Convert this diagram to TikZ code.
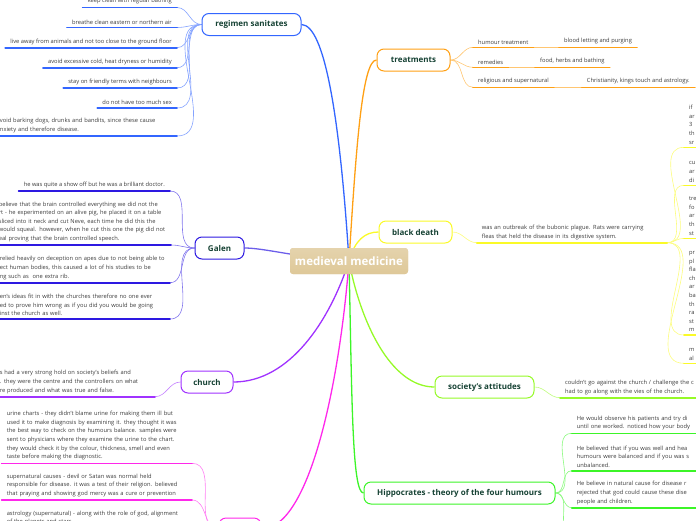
\documentclass[tikz,border=0pt]{standalone}
\usepackage{fontspec}
\setmainfont{Open Sans}
\usetikzlibrary{backgrounds}
\definecolor{leaftxt}{RGB}{58,58,58}
\definecolor{toptxt}{RGB}{22,66,52}
\definecolor{tan}{RGB}{222,200,152}
\definecolor{cblue}{RGB}{51,102,255}
\definecolor{cindigo}{RGB}{45,25,225}
\definecolor{cpurple}{RGB}{160,50,255}
\definecolor{cmagenta}{RGB}{255,40,235}
\definecolor{corange}{RGB}{255,160,20}
\definecolor{cyellow}{RGB}{250,250,40}
\definecolor{clime}{RGB}{150,250,40}
\definecolor{cgreen}{RGB}{60,245,40}
\tikzset{
 centre/.style={fill=tan,top color=tan!80!white,bottom color=tan,rounded corners=3pt,minimum width=118pt,minimum height=26pt,text=white,font=\bfseries\fontsize{11.5}{13}\selectfont},
 topic/.style={draw=#1,fill=white,line width=1pt,rounded corners=7pt,minimum height=22pt,inner xsep=2pt,text=toptxt,font=\bfseries\fontsize{8}{9}\selectfont},
 leaf/.style={inner xsep=5pt,inner ysep=3pt,text=leaftxt,font=\fontsize{5.75}{8.6}\selectfont,align=left,
   append after command={(\tikzlastnode.south west) edge[draw=#1,line width=1.6pt] (\tikzlastnode.south east)}},
 branch/.style={draw=#1,line width=1.3pt},
 twig/.style={draw=#1!60,line width=.6pt}
}
\begin{document}
\begin{tikzpicture}[x=1pt,y=-1pt,line cap=round]
\useasboundingbox (0,0) rectangle (696,520);
\clip (0,0) rectangle (696,520);
\node[centre] (mm) at (349,261) {medieval medicine};
% topics
\node[topic=cblue,minimum width=99pt] (reg) at (251.5,24.5) {regimen sanitates};
\node[topic=corange,minimum width=73pt] (treat) at (413.5,60) {treatments};
\node[topic=cyellow,minimum width=73pt] (bd) at (415.5,232) {black death};
\node[topic=cindigo,minimum width=49pt] (galen) at (219.5,248) {Galen};
\node[topic=cpurple,minimum width=52pt] (church) at (207,382) {church};
\node[topic=clime,minimum width=99pt] (soc) at (484.5,387) {society's attitudes};
\node[topic=cgreen,minimum width=191pt] (hip) at (459.5,493) {Hippocrates - theory of the four humours};
\node[topic=cmagenta,minimum width=42pt] (mag) at (240,529) {};
% regimen sanitates
\node[leaf=cblue,anchor=south east] (r1) at (177,7.5) {keep clean with regular bathing};
\node[leaf=cblue,anchor=south east] (r2) at (177,27.5) {breathe clean eastern or northern air};
\node[leaf=cblue,anchor=south east] (r3) at (177,47.7) {live away from animals and not too close to the ground floor};
\node[leaf=cblue,anchor=south east] (r4) at (177,67.7) {avoid excessive cold, heat dryness or humidity};
\node[leaf=cblue,anchor=south east] (r5) at (177,88) {stay on friendly terms with neighbours};
\node[leaf=cblue,anchor=south east] (r6) at (177,108) {do not have too much sex};
\node[leaf=cblue,anchor=south east,text width=175pt] (r7) at (177,136) {avoid barking dogs, drunks and bandits, since these cause\\anxiety and therefore disease.};
% Galen
\node[leaf=cindigo,anchor=south east] (g1) at (170,191) {he was quite a show off but he was a brilliant doctor.};
\node[leaf=cindigo,anchor=south east,text width=167pt] (g2) at (171,245) {believe that the brain controlled everything we did not the\\rt - he experimented on an alive pig, he placed it on a table\\sliced into it neck and cut Neve, each time he did this the\\would squeal. however, when he cut this one the pig did not\\eal proving that the brain controlled speech.};
\node[leaf=cindigo,anchor=south east,text width=165pt] (g3) at (170,282.7) {relied heavily on deception on apes due to not being able to\\ect human bodies, this caused a lot of his studies to be\\ng such as\ \ one extra rib.};
\node[leaf=cindigo,anchor=south east,text width=165pt] (g4) at (170,319) {en's ideas fit in with the churches therefore no one ever\\ed to prove him wrong as if you did you would be going\\inst the church as well.};
% church
\node[leaf=cpurple,anchor=south east,text width=150pt] (c1) at (155,396.7) {s had a very strong hold on society's beliefs and\\. they were the centre and the controllers on what\\re produced and what was true and false.};
% bottom branch
\node[leaf=cmagenta,anchor=south east,text width=180pt] (m1) at (192,463.3) {urine charts - they didn't blame urine for making them ill but\\used it to make diagnosis by examining it. they thought it was\\the best way to check on the humours balance. samples were\\sent to physicians where they examine the urine to the chart.\\they would check it by the colour, thickness, smell and even\\taste before making the diagnostic.};
\node[leaf=cmagenta,anchor=south east,text width=180pt] (m2) at (192,500) {supernatural causes - devil or Satan was normal held\\responsible for disease. it was a test of their religion. believed\\that praying and showing god mercy was a cure or prevention};
\node[leaf=cmagenta,anchor=south east,text width=180pt] (m3) at (192,528.5) {astrology (supernatural) - along with the role of god, alignment\\of the planets and stars};
% treatments
\node[leaf=corange,anchor=south west] (t1) at (473,47.3) {humour treatment};
\node[leaf=corange,anchor=south west] (t1a) at (559,47.3) {blood letting and purging};
\node[leaf=corange,anchor=south west] (t2) at (473,67.3) {remedies};
\node[leaf=corange,anchor=south west] (t2a) at (535,67.3) {food, herbs and bathing};
\node[leaf=corange,anchor=south west] (t3) at (473,87.3) {religious and supernatural};
\node[leaf=corange,anchor=south west] (t3a) at (581.7,87.3) {Christianity, kings touch and astrology.};
% black death
\node[leaf=cyellow,anchor=south west,text width=180pt] (bd1) at (476.7,242.7) {was an outbreak of the bubonic plague. Rats were carrying\\fleas that held the disease in its digestive system.};
\node[leaf=cyellow,anchor=south west,text width=200pt] (b1) at (684,147.3) {if\\ar\\3\\th\\sr};
\node[leaf=cyellow,anchor=south west,text width=200pt] (b2) at (684,185.3) {cu\\ar\\di};
\node[leaf=cyellow,anchor=south west,text width=200pt] (b3) at (684,238.3) {tre\\fo\\ar\\th\\st};
\node[leaf=cyellow,anchor=south west,text width=200pt] (b4) at (684,335) {pr\\pl\\fla\\ch\\ar\\ba\\th\\ra\\st\\m};
\node[leaf=cyellow,anchor=south west,text width=200pt] (b5) at (684,363.3) {m\\al};
% society's attitudes
\node[leaf=clime,anchor=south west,text width=200pt] (s1) at (560,397.7) {couldn't go against the church / challenge the c\\had to go along with the vies of the church.};
% Hippocrates
\node[leaf=cgreen,anchor=south west,text width=200pt] (h1) at (571.7,433.3) {He would observe his patients and try di\\until one worked. noticed how your body};
\node[leaf=cgreen,anchor=south west,text width=200pt] (h2) at (571.7,470.7) {He believed that if you was well and hea\\humours were balanced and if you was s\\unbalanced.};
\node[leaf=cgreen,anchor=south west,text width=200pt] (h3) at (571.7,507.7) {He believe in natural cause for disease r\\rejected that god could cause these dise\\people and children.};
\node[leaf=cgreen,anchor=south west,text width=200pt] (h4) at (571.7,536) {the four humours could};
\begin{scope}[on background layer]
\clip (0,0) rectangle (696,520);
\draw[branch=cblue] (mm.center) .. controls (340,120) and (325,25) .. (reg.east);
\draw[branch=corange] (mm.center) .. controls (356,150) and (362,60) .. (treat.west);
\draw[branch=cyellow] (mm.center) .. controls (355,240) and (365,232) .. (bd.west);
\draw[branch=cindigo!70] (mm.center) .. controls (300,258) and (265,248) .. (galen.east);
\draw[branch=cpurple] (mm.center) .. controls (330,320) and (290,382) .. (church.east);
\draw[branch=clime] (mm.center) .. controls (360,320) and (390,387) .. (soc.west);
\draw[branch=cgreen] (mm.center) .. controls (352,400) and (352,493) .. (hip.west);
\draw[branch=cmagenta] (mm.center) .. controls (340,380) and (310,529) .. (mag.east);
\foreach \n in {r1,r2,r3,r4,r5,r6,r7} \draw[twig=cblue] (reg.west) to[out=180,in=0] (\n.south east);
\foreach \n in {g1,g2,g3,g4} \draw[twig=cindigo] (galen.west) to[out=180,in=0] (\n.south east);
\draw[twig=cpurple] (church.west) to[out=180,in=0] (c1.south east);
\foreach \n in {m1,m2,m3} \draw[twig=cmagenta] (mag.west) to[out=180,in=0] (\n.south east);
\foreach \n in {t1,t2,t3} \draw[twig=corange] (treat.east) to[out=0,in=180] (\n.south west);
\draw[twig=corange] (t1.south east) -- (t1a.south west);\draw[twig=corange] (t2.south east) -- (t2a.south west);\draw[twig=corange] (t3.south east) -- (t3a.south west);
\draw[twig=cyellow] (bd.east) to[out=0,in=180] (bd1.south west);
\foreach \n in {b1,b2,b3,b4,b5} \draw[twig=cyellow] (bd1.south east) to[out=0,in=180] (\n.south west);
\draw[twig=clime] (soc.east) to[out=0,in=180] (s1.south west);
\foreach \n in {h1,h2,h3,h4} \draw[twig=cgreen] (hip.east) to[out=0,in=180] (\n.south west);
\end{scope}
\end{tikzpicture}
\end{document}
